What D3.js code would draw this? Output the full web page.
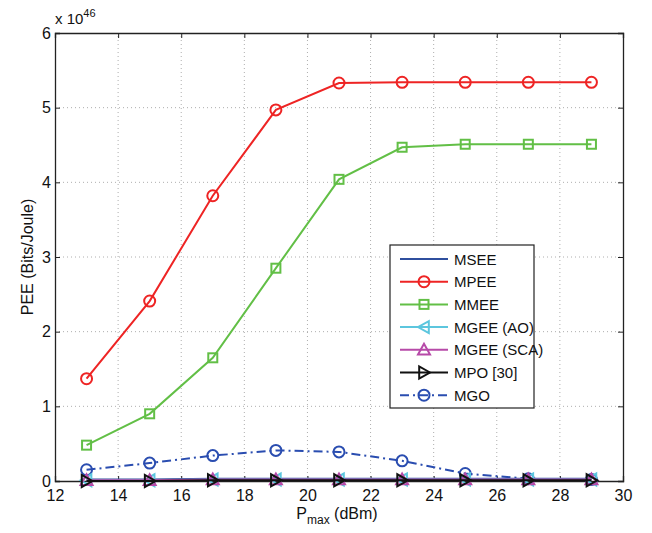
<!DOCTYPE html>
<html>
<head>
<script src="https://d3js.org/d3.v7.min.js"></script>
<style>
  body { margin: 0; background: #fff; }
  text { font-family: "Liberation Sans", Arial, sans-serif; }
</style>
</head>
<body>
<div id="chart"></div>
<script>
var pmax = [13, 15, 17, 19, 21, 23, 25, 27, 29];
var msee = [0.02, 0.02, 0.03, 0.03, 0.03, 0.03, 0.03, 0.03, 0.03];
var mpee = [1.37, 2.41, 3.82, 4.97, 5.33, 5.34, 5.34, 5.34, 5.34];
var mmee = [0.48, 0.90, 1.65, 2.85, 4.04, 4.47, 4.51, 4.51, 4.51];
var mgeeAO = [0.01, 0.01, 0.02, 0.02, 0.02, 0.02, 0.02, 0.02, 0.02];
var mgeeSCA = [0.01, 0.01, 0.02, 0.02, 0.02, 0.02, 0.02, 0.02, 0.02];
var mpo = [0.0, 0.0, 0.01, 0.01, 0.01, 0.01, 0.01, 0.01, 0.01];
var mgo = [0.15, 0.24, 0.34, 0.41, 0.39, 0.27, 0.10, 0.03, 0.02];
var xTicks = [12, 14, 16, 18, 20, 22, 24, 26, 28, 30];
var yTicks = [0, 1, 2, 3, 4, 5, 6];

var series = [
  {name: "MSEE", values: msee, color: "#2f4f9e", marker: "none", dash: null},
  {name: "MPEE", values: mpee, color: "#ee2424", marker: "circle", dash: null},
  {name: "MMEE", values: mmee, color: "#62bf46", marker: "square", dash: null},
  {name: "MGEE (AO)", values: mgeeAO, color: "#5cc6de", marker: "left", dash: null},
  {name: "MGEE (SCA)", values: mgeeSCA, color: "#b74aa8", marker: "up", dash: null},
  {name: "MPO [30]", values: mpo, color: "#111111", marker: "right", dash: null},
  {name: "MGO", values: mgo, color: "#2a4db0", marker: "circle", dash: "9,4,2,4"}
];

var W = 652, H = 533;
var margin = {left: 55, right: 29, top: 33, bottom: 52};

var svg = d3.select("#chart").append("svg")
  .attr("width", W).attr("height", H);

var x = d3.scaleLinear().domain([12, 30]).range([margin.left, W - margin.right]);
var y = d3.scaleLinear().domain([0, 6]).range([H - margin.bottom, margin.top]);

// grid
var grid = svg.append("g");
grid.selectAll(".gx").data(xTicks.slice(1, -1)).enter().append("line")
  .attr("x1", d => x(d)).attr("x2", d => x(d))
  .attr("y1", y(0)).attr("y2", y(6))
  .attr("stroke", "#999").attr("stroke-width", 0.8).attr("stroke-dasharray", "1,3");
grid.selectAll(".gy").data(yTicks.slice(1, -1)).enter().append("line")
  .attr("x1", x(12)).attr("x2", x(30))
  .attr("y1", d => y(d)).attr("y2", d => y(d))
  .attr("stroke", "#999").attr("stroke-width", 0.8).attr("stroke-dasharray", "1,3");

// axes (ticks inward)
var xAxis = svg.append("g").attr("transform", "translate(0," + y(0) + ")")
  .call(d3.axisBottom(x).tickValues(xTicks).tickSize(-5).tickPadding(9).tickFormat(d3.format("d")));
var xAxisTop = svg.append("g").attr("transform", "translate(0," + y(6) + ")")
  .call(d3.axisTop(x).tickValues(xTicks).tickSize(-5).tickFormat(""));
var yAxis = svg.append("g").attr("transform", "translate(" + x(12) + ",0)")
  .call(d3.axisLeft(y).tickValues(yTicks).tickSize(-5).tickPadding(4).tickFormat(d3.format("d")));
var yAxisRight = svg.append("g").attr("transform", "translate(" + x(30) + ",0)")
  .call(d3.axisRight(y).tickValues(yTicks).tickSize(-5).tickFormat(""));

[xAxis, xAxisTop, yAxis, yAxisRight].forEach(function(g) {
  g.select(".domain").attr("stroke", "#222").attr("stroke-width", 1.3);
  g.selectAll(".tick line").attr("stroke", "#222");
  g.selectAll("text").attr("font-size", 16).attr("fill", "#111")
    .style("font-family", "Liberation Sans, Arial, sans-serif");
});

// line + markers
var line = d3.line().x((d, i) => x(pmax[i])).y(d => y(d));

function drawMarker(g, type, cx, cy, color) {
  if (type === "circle") {
    g.append("circle").attr("cx", cx).attr("cy", cy).attr("r", 5.5)
      .attr("fill", "none").attr("stroke", color).attr("stroke-width", 2);
  } else if (type === "square") {
    g.append("rect").attr("x", cx - 4.5).attr("y", cy - 4.5).attr("width", 9).attr("height", 9)
      .attr("fill", "none").attr("stroke", color).attr("stroke-width", 2);
  } else if (type !== "none") {
    var s = 6, pts;
    if (type === "up") pts = [[cx, cy - s], [cx - s, cy + s * 0.8], [cx + s, cy + s * 0.8]];
    if (type === "left") pts = [[cx - s, cy], [cx + s * 0.8, cy - s], [cx + s * 0.8, cy + s]];
    if (type === "right") pts = [[cx + s, cy], [cx - s * 0.8, cy - s], [cx - s * 0.8, cy + s]];
    g.append("polygon").attr("points", pts.map(p => p.join(",")).join(" "))
      .attr("fill", "none").attr("stroke", color).attr("stroke-width", 2);
  }
}

var order = [2, 1, 6, 0, 3, 4, 5];
order.forEach(function(k) {
  var s = series[k];
  var g = svg.append("g");
  g.append("path").datum(s.values).attr("d", line)
    .attr("fill", "none").attr("stroke", s.color).attr("stroke-width", 2)
    .attr("stroke-dasharray", s.dash);
  s.values.forEach(function(v, i) {
    drawMarker(g, s.marker, x(pmax[i]), y(v), s.color);
  });
});

// exponent label
var ex = svg.append("text").attr("x", 55).attr("y", 24).attr("font-size", 15).attr("fill", "#111");
ex.append("tspan").text("x 10");
ex.append("tspan").attr("dy", -7).attr("font-size", 11).text("46");

// axis titles
var xl = svg.append("text").attr("x", 337).attr("y", 519).attr("text-anchor", "middle")
  .attr("font-size", 16).attr("fill", "#111");
xl.append("tspan").text("P");
xl.append("tspan").attr("dy", 5).attr("font-size", 12).text("max");
xl.append("tspan").attr("dy", -5).text(" (dBm)");

svg.append("text").attr("transform", "translate(33," + ((y(0) + y(6)) / 2) + ") rotate(-90)")
  .attr("text-anchor", "middle").attr("font-size", 16).attr("fill", "#111")
  .text("PEE (Bits/Joule)");

// legend
var lg = svg.append("g").attr("transform", "translate(390,245)");
lg.append("rect").attr("width", 144).attr("height", 163)
  .attr("fill", "#fff").attr("stroke", "#222").attr("stroke-width", 1.2);
series.forEach(function(s, i) {
  var ly = 14 + i * 22.7;
  lg.append("line").attr("x1", 10).attr("x2", 58).attr("y1", ly).attr("y2", ly)
    .attr("stroke", s.color).attr("stroke-width", 2).attr("stroke-dasharray", s.dash);
  drawMarker(lg, s.marker, 34, ly, s.color);
  lg.append("text").attr("x", 64).attr("y", ly + 5.5).attr("font-size", 15).attr("fill", "#111")
    .text(s.name);
});
</script>
</body>
</html>
